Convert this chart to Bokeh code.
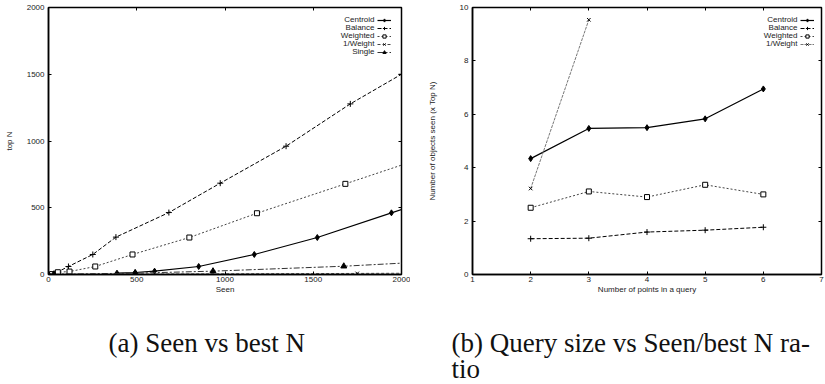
from bokeh.plotting import figure
from bokeh.models import (Range1d, LinearAxis, SingleIntervalTicker, Legend,
                          LegendItem, ColumnDataSource, LabelSet,
                          CustomLabelingPolicy)
from bokeh.layouts import column, row
from bokeh.embed import file_html
from bokeh.resources import INLINE
from bokeh.core.properties import value

# ---------------- data: (a) Seen vs best N ----------------
centroid_seen = [388, 491, 601, 851, 1166, 1523, 1943, 2200]
centroid_top = [10, 15, 25, 60, 150, 277, 462, 575]
balance_seen = [10, 38, 113, 251, 382, 682, 973, 1346, 1710, 2000]
balance_top = [2, 10, 60, 150, 280, 464, 684, 961, 1278, 1500]
weighted_seen = [20, 53, 119, 265, 476, 798, 1181, 1682, 2160]
weighted_top = [3, 17, 22, 60, 150, 277, 459, 679, 890]
invw_seen = [15, 1749, 2600]
invw_top = [1, 8, 12]
single_seen = [30, 491, 932, 1673, 2400]
single_top = [2, 10, 25, 62, 113]
names_a = ["Centroid", "Balance", "Weighted", "1/Weight", "Single"]

# ---------------- data: (b) Query size vs Seen/best N ratio ----------------
query_points = [2, 3, 4, 5, 6]
ratio_centroid = [4.34, 5.47, 5.50, 5.83, 6.95]
ratio_balance = [1.34, 1.36, 1.59, 1.66, 1.77]
ratio_weighted = [2.50, 3.11, 2.90, 3.36, 3.00]
invw_points = [2, 3]
ratio_invw = [3.22, 9.54]
names_b = ["Centroid", "Balance", "Weighted", "1/Weight"]

captions = ["(a) Seen vs best N", "(b) Query size vs Seen/best N ra-", "tio"]

FONT = "Liberation Sans"


def style_axis(ax, labels=True):
    ax.major_tick_in = 3
    ax.major_tick_out = 0
    ax.minor_tick_in = 0
    ax.minor_tick_out = 0
    ax.major_tick_line_color = "black"
    ax.major_tick_line_width = 1
    ax.axis_line_color = "black"
    ax.axis_line_width = 1.5
    ax.major_label_text_font = FONT
    ax.major_label_text_font_size = "8px"
    ax.major_label_text_color = "#222222"
    ax.axis_label_text_font = FONT
    ax.axis_label_text_font_size = "8px"
    ax.axis_label_text_font_style = "normal"
    ax.axis_label_text_color = "#222222"
    if not labels:
        # mirror axis: ticks only, every label dropped by the labeling policy
        ax.major_label_policy = CustomLabelingPolicy(code="return []")
        ax.major_label_text_font_size = "1px"
        ax.major_label_standoff = 0
        ax.axis_line_color = None


def make_fig(w, xr, yr, xint, yint, mb_left, mb_right, xlabel, ylabel, ylab_standoff):
    p = figure(width=w, height=300, x_range=Range1d(*xr), y_range=Range1d(*yr),
               output_backend="svg", toolbar_location=None,
               min_border_left=mb_left, min_border_right=mb_right,
               min_border_top=7, min_border_bottom=26)
    p.xgrid.visible = False
    p.ygrid.visible = False
    p.outline_line_color = "black"
    p.outline_line_width = 1.5
    p.outline_line_alpha = 1
    xt = SingleIntervalTicker(interval=xint, num_minor_ticks=0)
    yt = SingleIntervalTicker(interval=yint, num_minor_ticks=0)
    p.xaxis.ticker = xt
    p.yaxis.ticker = yt
    for ax in p.xaxis:
        style_axis(ax)
        ax.major_label_standoff = 2
        ax.axis_label = xlabel
        ax.axis_label_standoff = 0
    for ax in p.yaxis:
        style_axis(ax)
        ax.major_label_standoff = 4
        ax.axis_label = ylabel
        ax.axis_label_standoff = ylab_standoff
    top = LinearAxis(ticker=xt)
    style_axis(top, labels=False)
    right = LinearAxis(ticker=yt)
    style_axis(right, labels=False)
    p.add_layout(top, "above")
    p.add_layout(right, "right")
    return p


def series(p, x, y, dash, marker, size, fill, color="black", lw=1.0):
    src = ColumnDataSource(dict(x=x, y=y))
    ln = p.line("x", "y", source=src, line_color=color, line_width=lw, line_dash=dash)
    sc = p.scatter("x", "y", source=src, marker=marker, size=size,
                   line_color="black", fill_color=fill, line_width=1)
    return [ln, sc]


def legend(p, names, rends, gx, text_right, top_y):
    # gnuplot-style key: sample glyphs from a Legend, labels right-aligned to their left
    n = len(names)
    lg = Legend(items=[LegendItem(label=" ", renderers=r) for r in rends],
                location=(gx, top_y - (10 * n - 2 * (n - 1))), orientation="vertical",
                glyph_width=14, glyph_height=8, label_height=8, label_standoff=0,
                padding=0, spacing=-2, margin=0,
                background_fill_alpha=0, border_line_alpha=0,
                label_text_font=FONT, label_text_font_size="8px")
    p.add_layout(lg)
    src = ColumnDataSource(dict(x=[text_right] * n,
                                y=[top_y - 5 - 8 * i for i in range(n)],
                                t=names))
    p.add_layout(LabelSet(x="x", y="y", text="t", source=src,
                          x_units="screen", y_units="screen",
                          text_align="right", text_baseline="middle",
                          text_font=value(FONT), text_font_size="8px",
                          text_color="#222222"))


# ---------------- panel (a) ----------------
p1 = make_fig(410, (0, 2000), (0, 2000), 500, 500, 48, 9, "Seen", "top N", 10)
r_c = series(p1, centroid_seen, centroid_top, "solid", "diamond", 6, "black", lw=1.2)
r_b = series(p1, balance_seen, balance_top, "4 2", "cross", 6, None)
r_w = series(p1, weighted_seen, weighted_top, "2 2", "square", 5, "white", color="#444444")
r_i = series(p1, invw_seen, invw_top, "3 2", "x", 5, None, color="#444444")
r_s = series(p1, single_seen, single_top, "6 2 2 2", "triangle", 6, "black", color="#333333")
legend(p1, names_a, [r_c, r_b, r_w, r_i, r_s], 329, 326, 260)

# ---------------- panel (b) ----------------
p2 = make_fig(415, (1, 7), (0, 10), 1, 2, 62, 0,
              "Number of points in a query", "Number of objects seen (x Top N)", 20)
q_c = series(p2, query_points, ratio_centroid, "solid", "diamond", 6, "black", lw=1.2)
q_b = series(p2, query_points, ratio_balance, "4 2", "cross", 6, None)
q_w = series(p2, query_points, ratio_weighted, "2 2", "square", 5, "white", color="#444444")
q_i = series(p2, invw_points, ratio_invw, "3 1", "x", 5, None, color="#777777")
legend(p2, names_b, [q_c, q_b, q_w, q_i], 328, 325, 260)

# ---------------- captions ----------------
cap = figure(width=825, height=84, x_range=Range1d(0, 825), y_range=Range1d(84, 0),
             output_backend="svg", toolbar_location=None, x_axis_type=None,
             y_axis_type=None, min_border=0)
cap.outline_line_color = None
cap.xgrid.visible = False
cap.ygrid.visible = False
cap.text(x=[108, 451, 451], y=[42, 42, 68], text=captions,
         text_font=value("Liberation Serif"), text_font_size="27px",
         text_baseline="alphabetic", text_align="left", text_color="#111111")

layout = column(row(p1, p2), cap)

open("out.html", "w").write(file_html(layout, INLINE))
